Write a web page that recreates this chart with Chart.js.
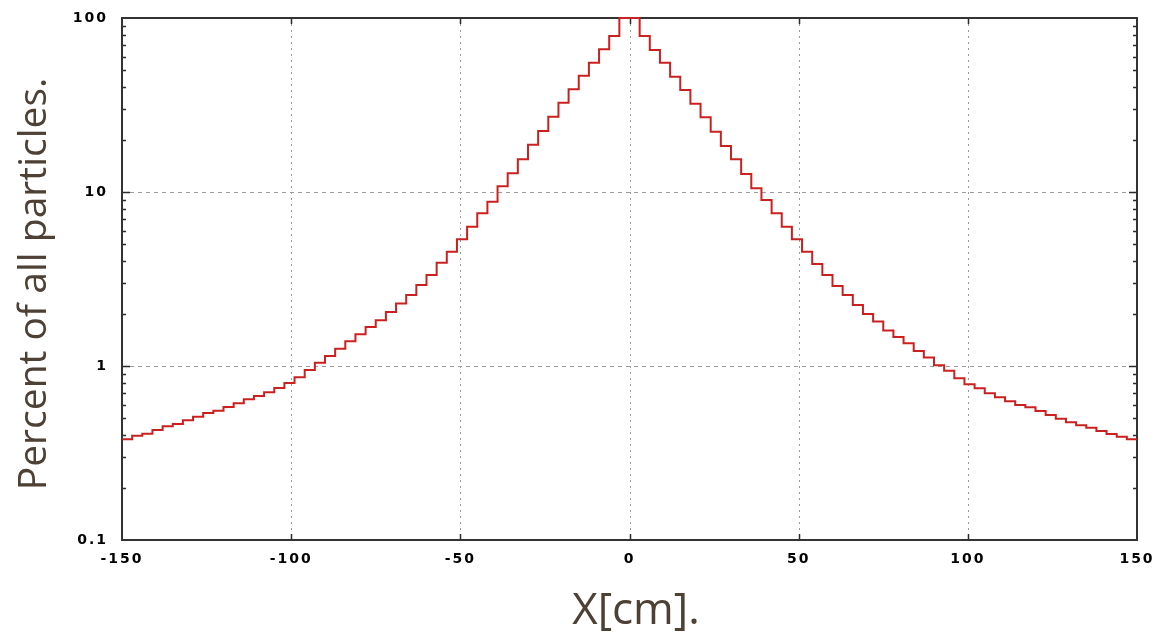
<!DOCTYPE html>
<html>
<head>
<meta charset="utf-8">
<script src="https://cdn.jsdelivr.net/npm/chart.js@4/dist/chart.umd.min.js"></script>
<style>
  html, body { margin: 0; padding: 0; background: #ffffff; }
  #wrap { width: 1163px; height: 633px; position: relative; }
</style>
</head>
<body>
<div id="wrap"><canvas id="c" width="1163" height="633"></canvas></div>
<script>
// Histogram binning along X (cm)
const binStart = -150;
const binWidth = 3;

// Percent of all particles per 3 cm bin, from X = -150 to X = 150
const percent = [
  0.379, 0.397, 0.408, 0.429, 0.450, 0.464, 0.487, 0.511, 0.537, 0.553,
  0.581, 0.610, 0.644, 0.673, 0.706, 0.748, 0.798, 0.861, 0.948, 1.045,
  1.141, 1.258, 1.387, 1.521, 1.675, 1.831, 2.04, 2.29, 2.56, 2.92,
  3.33, 3.92, 4.54, 5.35, 6.32, 7.54, 8.79, 10.8, 12.8, 15.4,
  18.7, 22.4, 27.1, 32.6, 38.9, 46.6, 55.4, 66.1, 78.8, 100,
  100, 78.8, 65.5, 55.4, 46.0, 38.6, 32.1, 26.9, 22.2, 18.4,
  15.4, 12.7, 10.5, 9.0, 7.54, 6.32, 5.35, 4.54, 3.86, 3.33,
  2.88, 2.56, 2.24, 1.99, 1.80, 1.60, 1.47, 1.35, 1.22, 1.12,
  1.01, 0.94, 0.85, 0.785, 0.745, 0.697, 0.661, 0.627, 0.597, 0.579,
  0.551, 0.523, 0.498, 0.475, 0.456, 0.442, 0.423, 0.406, 0.392, 0.379
];

// Axis ticks and grid positions
const xTicks = [-150, -100, -50, 0, 50, 100, 150];
const xTickLabels = ['-150', '-100', '-50', '0', '50', '100', '150'];
const yTicks = [0.1, 1, 10, 100];
const yTickLabels = ['0.1', '1', '10', '100'];
const xGrid = [-100, -50, 0, 50, 100];
const yGrid = [1, 10];
const yMinor = [0.2,0.3,0.4,0.5,0.6,0.7,0.8,0.9, 2,3,4,5,6,7,8,9, 20,30,40,50,60,70,80,90];

const xTitle = 'X[cm].';
const yTitle = 'Percent of all particles.';

// Step outline: one point at each bin's left edge, plus the closing right edge
const points = percent.map((v, i) => ({ x: binStart + i * binWidth, y: v }));
points.push({ x: binStart + percent.length * binWidth, y: percent[percent.length - 1] });

const tickFont = { family: '"DejaVu Sans", sans-serif', size: 14, weight: 'bold' };

// Frame, dotted/dashed grid and inward tick marks on all four sides
const framePlugin = {
  id: 'frame',
  beforeDatasetsDraw(chart) {
    const { ctx, chartArea: { left, right, top, bottom }, scales: { x, y } } = chart;
    ctx.save();
    ctx.letterSpacing = '0px';
    ctx.strokeStyle = '#9a9a9a';
    ctx.lineWidth = 1;
    ctx.setLineDash([2, 4]);
    xGrid.forEach(v => {
      const px = Math.round(x.getPixelForValue(v)) + 0.5;
      ctx.beginPath(); ctx.moveTo(px, top); ctx.lineTo(px, bottom); ctx.stroke();
    });
    ctx.setLineDash([4, 4]);
    yGrid.forEach(v => {
      const py = Math.round(y.getPixelForValue(v)) + 0.5;
      ctx.beginPath(); ctx.moveTo(left, py); ctx.lineTo(right, py); ctx.stroke();
    });
    ctx.setLineDash([]);

    ctx.strokeStyle = '#2b2b2b';
    ctx.lineWidth = 1.5;
    xGrid.forEach(v => {
      const px = Math.round(x.getPixelForValue(v)) + 0.5;
      ctx.beginPath();
      ctx.moveTo(px, bottom); ctx.lineTo(px, bottom - 6);
      ctx.moveTo(px, top); ctx.lineTo(px, top + 6);
      ctx.stroke();
    });
    yGrid.forEach(v => {
      const py = Math.round(y.getPixelForValue(v)) + 0.5;
      ctx.beginPath();
      ctx.moveTo(left, py); ctx.lineTo(left + 8, py);
      ctx.moveTo(right, py); ctx.lineTo(right - 8, py);
      ctx.stroke();
    });
    yMinor.forEach(v => {
      const py = Math.round(y.getPixelForValue(v)) + 0.5;
      ctx.beginPath();
      ctx.moveTo(left, py); ctx.lineTo(left + 4, py);
      ctx.moveTo(right, py); ctx.lineTo(right - 4, py);
      ctx.stroke();
    });

    ctx.lineWidth = 2;
    ctx.strokeStyle = '#333333';
    ctx.strokeRect(left, top, right - left, bottom - top);
    ctx.restore();
  }
};

// Spaced tick lettering and the two axis titles
const textPlugin = {
  id: 'axisText',
  beforeDraw(chart) {
    chart.ctx.letterSpacing = '2px';
  },
  afterDraw(chart) {
    const ctx = chart.ctx;
    ctx.save();
    ctx.letterSpacing = '0px';
    ctx.fillStyle = '#4d4034';
    ctx.textBaseline = 'alphabetic';
    ctx.textAlign = 'center';
    ctx.font = '44px "Open Sans"';
    ctx.fillText(xTitle, 636, 624);
    ctx.font = '39px "Open Sans"';
    ctx.translate(46, 284);
    ctx.rotate(-Math.PI / 2);
    ctx.fillText(yTitle, 0, 0);
    ctx.restore();
  }
};

new Chart(document.getElementById('c'), {
  type: 'line',
  data: {
    datasets: [{
      data: points,
      stepped: 'before',
      borderColor: '#cc2020',
      borderWidth: 2,
      pointRadius: 0,
      fill: false,
      clip: 3
    }]
  },
  options: {
    responsive: false,
    animation: false,
    devicePixelRatio: 1,
    layout: { padding: { left: 0, right: 26, top: 18, bottom: 0 } },
    plugins: { legend: { display: false }, tooltip: { enabled: false } },
    scales: {
      x: {
        type: 'linear',
        min: -150, max: 150,
        grid: { display: false },
        border: { display: false },
        afterBuildTicks: s => { s.ticks = xTicks.map(v => ({ value: v })); },
        afterFit: s => { s.height = 93; s.paddingLeft = 0; s.paddingRight = 0; },
        ticks: {
          autoSkip: false, maxRotation: 0, minRotation: 0,
          padding: 3, color: '#000000', font: tickFont,
          callback: v => xTickLabels[xTicks.indexOf(v)]
        }
      },
      y: {
        type: 'logarithmic',
        min: 0.1, max: 100,
        grid: { display: false },
        border: { display: false },
        afterBuildTicks: s => { s.ticks = yTicks.map(v => ({ value: v })); },
        afterFit: s => { s.width = 122; s.paddingTop = 0; s.paddingBottom = 0; },
        ticks: {
          autoSkip: false, padding: 6, color: '#000000', font: tickFont,
          callback: v => yTickLabels[yTicks.indexOf(v)]
        }
      }
    }
  },
  plugins: [framePlugin, textPlugin]
});
</script>
</body>
</html>
